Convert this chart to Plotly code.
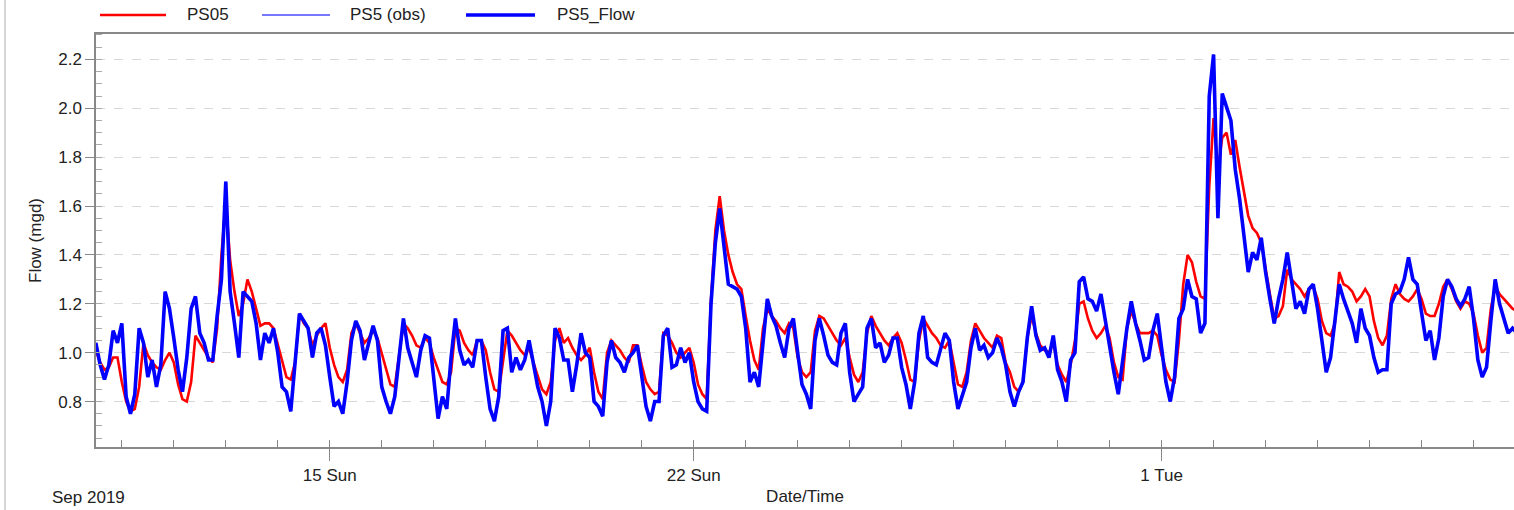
import pandas as pd
import plotly.graph_objects as go

# ---------------- data (2-hourly samples starting 2019-09-10 12:00) ----------------
series_start = "2019-09-10 12:00"

ps5_flow = [
    1.04, 0.95, 0.89, 0.95, 1.09, 1.04,                                      # Sep 10 (12h-22h)
    1.12, 0.82, 0.75, 0.83, 1.10, 1.04, 0.90, 0.97, 0.86, 0.95, 1.25, 1.18,  # Sep 11
    1.06, 0.93, 0.84, 0.98, 1.18, 1.23, 1.08, 1.04, 0.97, 0.97, 1.15, 1.30,  # Sep 12
    1.70, 1.25, 1.12, 0.98, 1.25, 1.23, 1.21, 1.12, 0.97, 1.08, 1.04, 1.10,  # Sep 13
    1.00, 0.86, 0.84, 0.76, 0.95, 1.16, 1.13, 1.10, 0.98, 1.08, 1.10, 1.03,  # Sep 14
    0.90, 0.78, 0.80, 0.75, 0.88, 1.05, 1.13, 1.09, 0.97, 1.04, 1.11, 1.05,  # Sep 15
    0.86, 0.80, 0.75, 0.82, 0.97, 1.14, 1.02, 0.96, 0.90, 1.01, 1.07, 1.06,  # Sep 16
    0.88, 0.73, 0.82, 0.77, 0.98, 1.14, 1.01, 0.95, 0.97, 0.94, 1.05, 1.05,  # Sep 17
    0.90, 0.77, 0.72, 0.82, 1.09, 1.10, 0.92, 0.98, 0.93, 0.97, 1.05, 0.96,  # Sep 18
    0.86, 0.80, 0.70, 0.80, 1.10, 1.06, 0.97, 0.97, 0.84, 0.95, 1.08, 1.00,  # Sep 19
    0.98, 0.80, 0.78, 0.74, 0.96, 1.05, 0.98, 0.96, 0.92, 0.98, 1.00, 1.03,  # Sep 20
    0.90, 0.78, 0.72, 0.80, 0.80, 1.07, 1.10, 0.94, 0.95, 1.02, 0.96, 1.00,  # Sep 21
    0.88, 0.80, 0.77, 0.76, 1.20, 1.45, 1.59, 1.43, 1.28, 1.27, 1.26, 1.23,  # Sep 22
    1.10, 0.88, 0.92, 0.86, 1.05, 1.22, 1.15, 1.11, 1.04, 0.98, 1.10, 1.14,  # Sep 23
    1.00, 0.87, 0.83, 0.77, 1.05, 1.14, 1.07, 0.99, 0.96, 0.95, 1.08, 1.12,  # Sep 24
    0.92, 0.80, 0.83, 0.86, 1.10, 1.14, 1.02, 1.04, 0.96, 0.99, 1.06, 1.06,  # Sep 25
    0.94, 0.87, 0.77, 0.88, 1.08, 1.15, 0.98, 0.96, 0.95, 1.02, 1.08, 1.05,  # Sep 26
    0.88, 0.77, 0.82, 0.88, 1.02, 1.10, 1.01, 1.03, 0.98, 1.00, 1.06, 1.02,  # Sep 27
    0.95, 0.84, 0.78, 0.84, 0.88, 1.06, 1.19, 1.07, 1.01, 1.02, 0.98, 1.07,  # Sep 28
    0.93, 0.88, 0.80, 0.97, 1.00, 1.29, 1.31, 1.22, 1.21, 1.17, 1.24, 1.13,  # Sep 29
    1.02, 0.92, 0.83, 0.97, 1.10, 1.21, 1.12, 1.05, 0.97, 0.98, 1.09, 1.16,  # Sep 30
    1.03, 0.88, 0.80, 0.90, 1.14, 1.18, 1.30, 1.23, 1.22, 1.08, 1.12, 2.05,  # Oct 1
    2.22, 1.55, 2.06, 2.00, 1.95, 1.75, 1.63, 1.48, 1.33, 1.41, 1.38, 1.47,  # Oct 2
    1.33, 1.22, 1.12, 1.22, 1.30, 1.41, 1.30, 1.18, 1.21, 1.16, 1.26, 1.28,  # Oct 3
    1.18, 1.06, 0.92, 0.98, 1.13, 1.28, 1.22, 1.17, 1.12, 1.04, 1.18, 1.10,  # Oct 4
    1.07, 0.98, 0.92, 0.93, 0.93, 1.20, 1.24, 1.25, 1.30, 1.39, 1.30, 1.28,  # Oct 5
    1.17, 1.05, 1.09, 0.97, 1.06, 1.23, 1.30, 1.27, 1.22, 1.19, 1.22, 1.27,  # Oct 6
    1.14, 0.97, 0.90, 0.94, 1.13, 1.30, 1.20, 1.14, 1.08, 1.10, 1.08,        # Oct 7
]

ps5_obs = list(ps5_flow)

ps05_model = [
    1.01, 0.96, 0.93, 0.94, 0.98, 0.98,                                      # Sep 10 (12h-22h)
    0.88, 0.80, 0.76, 0.77, 0.86, 1.04, 0.99, 0.96, 0.94, 0.93, 0.97, 1.00,  # Sep 11
    0.96, 0.87, 0.81, 0.80, 0.88, 1.07, 1.04, 1.01, 0.98, 0.96, 1.10, 1.40,  # Sep 12
    1.62, 1.38, 1.25, 1.15, 1.20, 1.30, 1.25, 1.18, 1.11, 1.12, 1.12, 1.10,  # Sep 13
    1.03, 0.97, 0.90, 0.89, 0.96, 1.16, 1.12, 1.10, 1.03, 1.07, 1.10, 1.12,  # Sep 14
    1.02, 0.95, 0.90, 0.88, 0.93, 1.08, 1.12, 1.08, 1.04, 1.06, 1.09, 1.06,  # Sep 15
    1.00, 0.93, 0.87, 0.86, 1.00, 1.12, 1.10, 1.07, 1.03, 1.02, 1.06, 1.04,  # Sep 16
    0.98, 0.93, 0.88, 0.87, 0.92, 1.10, 1.09, 1.04, 1.01, 0.99, 1.05, 1.05,  # Sep 17
    1.01, 0.92, 0.85, 0.84, 0.97, 1.09, 1.07, 1.04, 1.01, 0.99, 1.02, 0.96,  # Sep 18
    0.90, 0.85, 0.83, 0.88, 1.05, 1.10, 1.04, 1.06, 1.02, 0.99, 0.97, 0.99,  # Sep 19
    1.02, 0.92, 0.84, 0.81, 1.00, 1.05, 1.03, 1.01, 0.98, 0.96, 1.03, 1.03,  # Sep 20
    0.95, 0.88, 0.85, 0.83, 0.84, 1.08, 1.07, 1.04, 1.00, 0.98, 1.00, 1.02,  # Sep 21
    0.96, 0.87, 0.83, 0.81, 1.22, 1.50, 1.64, 1.50, 1.40, 1.33, 1.28, 1.26,  # Sep 22
    1.15, 1.05, 0.97, 0.93, 1.10, 1.18, 1.15, 1.13, 1.10, 1.08, 1.12, 1.10,  # Sep 23
    0.98, 0.92, 0.90, 0.92, 1.09, 1.15, 1.14, 1.11, 1.08, 1.05, 1.03, 1.06,  # Sep 24
    0.98, 0.91, 0.88, 0.92, 1.08, 1.15, 1.11, 1.08, 1.05, 1.03, 1.06, 1.08,  # Sep 25
    1.04, 0.97, 0.89, 0.88, 1.05, 1.14, 1.11, 1.08, 1.06, 1.03, 1.02, 1.05,  # Sep 26
    0.96, 0.87, 0.86, 0.92, 1.05, 1.12, 1.09, 1.06, 1.04, 1.02, 1.07, 1.06,  # Sep 27
    0.96, 0.92, 0.86, 0.84, 0.88, 1.06, 1.15, 1.08, 1.03, 1.01, 1.00, 1.04,  # Sep 28
    0.95, 0.91, 0.88, 0.95, 1.05, 1.20, 1.21, 1.14, 1.09, 1.06, 1.08, 1.11,  # Sep 29
    1.06, 0.96, 0.90, 0.89, 1.10, 1.17, 1.12, 1.08, 1.08, 1.08, 1.09, 1.07,  # Sep 30
    0.99, 0.93, 0.89, 0.88, 1.05, 1.28, 1.40, 1.37, 1.29, 1.23, 1.22, 1.68,  # Oct 1
    1.96, 1.75, 1.88, 1.90, 1.81, 1.87, 1.76, 1.66, 1.56, 1.51, 1.49, 1.45,  # Oct 2
    1.34, 1.24, 1.14, 1.15, 1.19, 1.34, 1.30, 1.28, 1.26, 1.23, 1.26, 1.27,  # Oct 3
    1.22, 1.13, 1.08, 1.07, 1.12, 1.33, 1.28, 1.27, 1.25, 1.21, 1.23, 1.26,  # Oct 4
    1.23, 1.13, 1.06, 1.03, 1.07, 1.22, 1.28, 1.24, 1.22, 1.21, 1.23, 1.26,  # Oct 5
    1.22, 1.16, 1.15, 1.15, 1.20, 1.27, 1.30, 1.26, 1.21, 1.18, 1.21, 1.20,  # Oct 6
    1.16, 1.07, 1.00, 1.02, 1.18, 1.27, 1.24, 1.22, 1.20, 1.18, 1.17,        # Oct 7
]

x_tick_dates = ["2019-09-15", "2019-09-22", "2019-10-01"]
x_tick_labels = ["15 Sun", "22 Sun", "1 Tue"]
legend_names = ["PS05", "PS5 (obs)", "PS5_Flow"]

times = pd.date_range(series_start, periods=len(ps5_flow), freq="2h")

# ---------------- figure ----------------
FONT = "Liberation Sans, Arial, sans-serif"
W, H = 1514, 510
ML, MR, MT, MB = 96, 0, 34, 63
PW, PH = W - ML - MR, H - MT - MB

RED = "#ff0000"
BLUE = "#0000ff"
BLUE_THIN = "#4a4aff"

fig = go.Figure()
fig.add_trace(go.Scatter(x=times, y=ps05_model, mode="lines", name=legend_names[0],
                         line=dict(color=RED, width=2.6), showlegend=False))
fig.add_trace(go.Scatter(x=times, y=ps5_obs, mode="lines", name=legend_names[1],
                         line=dict(color=BLUE_THIN, width=1.2), showlegend=False))
fig.add_trace(go.Scatter(x=times, y=ps5_flow, mode="lines", name=legend_names[2],
                         line=dict(color=BLUE, width=3.6), showlegend=False))


def px_x(px):
    return (px - ML) / PW


def px_y(py):
    return (H - MB - py) / PH


shapes = []
annotations = []

# custom legend across the top
legend_items = [
    (100, 166, 185, RED, 2.6),
    (262, 330, 348, BLUE_THIN, 1.4),
    (466, 535, 555, BLUE, 3.4),
]
ly = px_y(15)
for (x0, x1, tx, col, w), name in zip(legend_items, legend_names):
    shapes.append(dict(type="line", xref="paper", yref="paper", x0=px_x(x0), x1=px_x(x1),
                       y0=ly, y1=ly, line=dict(color=col, width=w)))
    annotations.append(dict(text=name, xref="paper", yref="paper", x=px_x(tx), y=ly,
                            xanchor="left", yanchor="middle", showarrow=False,
                            font=dict(family=FONT, size=17, color="#222")))

# outer frame line on the left
shapes.append(dict(type="line", xref="paper", yref="paper", x0=px_x(5), x1=px_x(5),
                   y0=px_y(510), y1=px_y(0), line=dict(color="#c8c8c8", width=1.5)))

annotations.append(dict(text="Sep 2019", xref="paper", yref="paper", x=px_x(88), y=px_y(497),
                        xanchor="center", yanchor="middle", showarrow=False,
                        font=dict(family=FONT, size=17, color="#222")))

fig.update_layout(
    width=W, height=H,
    margin=dict(l=ML, r=MR, t=MT, b=MB, autoexpand=False),
    paper_bgcolor="white", plot_bgcolor="white",
    font=dict(family=FONT, size=17, color="#222"),
    shapes=shapes, annotations=annotations,
    showlegend=False,
)

fig.update_xaxes(
    type="date",
    range=["2019-09-10 12:05", "2019-10-07 18:41"],
    tickmode="array", tickvals=x_tick_dates, ticktext=x_tick_labels,
    ticks="outside", ticklen=12, tickwidth=1, tickcolor="#888",
    showline=True, linecolor="#888", linewidth=1.5, mirror=True,
    showgrid=False, zeroline=False,
    tickfont=dict(family=FONT, size=17, color="#222"),
    minor=dict(ticks="inside", dtick=86400000, tick0="2019-09-11", ticklen=7,
               tickcolor="#888", tickwidth=1, showgrid=False),
    title=dict(text="Date/Time", standoff=6, font=dict(family=FONT, size=17, color="#222")),
)

fig.update_yaxes(
    range=[0.614, 2.304],
    tick0=0.8, dtick=0.2, tickformat=".1f",
    ticks="outside", ticklen=9, tickwidth=1, tickcolor="#888",
    showline=True, linecolor="#888", linewidth=1.5,
    showgrid=True, gridcolor="#d8d8d8", griddash="dash", gridwidth=1,
    zeroline=False,
    tickfont=dict(family=FONT, size=17, color="#222"),
    minor=dict(ticks="inside", dtick=0.05, tick0=0.8, ticklen=6,
               tickcolor="#aaa", tickwidth=1, showgrid=False),
    title=dict(text="Flow (mgd)", standoff=12, font=dict(family=FONT, size=17, color="#222")),
)

fig.write_html("out.html")
